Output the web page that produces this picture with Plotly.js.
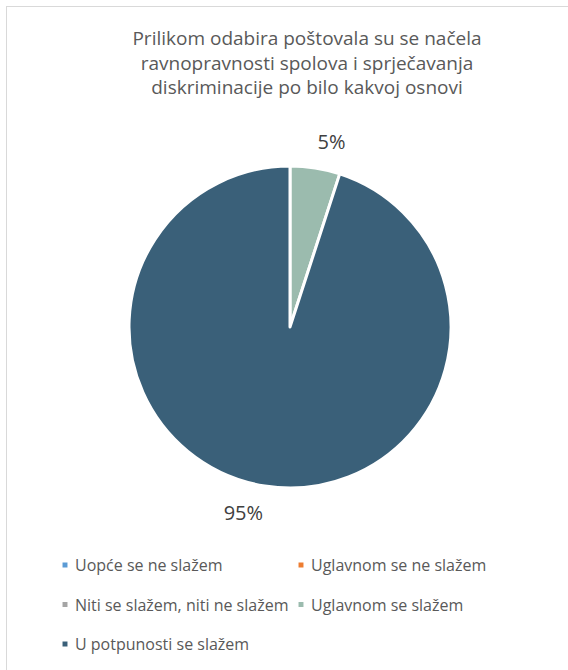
<!DOCTYPE html>
<html>
<head>
<meta charset="utf-8">
<script src="https://cdn.plot.ly/plotly-3.0.1.min.js"></script>
<style>
  html, body { margin: 0; padding: 0; background: #ffffff; overflow: hidden; }
  #frame { position: absolute; left: 6px; top: 6px; width: 600px; height: 700px; border: 1px solid #d9d9d9; box-sizing: border-box; }
  #chart { position: absolute; left: 0; top: 0; width: 568px; height: 670px; }
</style>
</head>
<body>
<div id="frame"></div>
<div id="chart"></div>
<script>
const categories = [
  "Uopće se ne slažem",
  "Uglavnom se ne slažem",
  "Niti se slažem, niti ne slažem",
  "Uglavnom se slažem",
  "U potpunosti se slažem"
];
const values = [0, 0, 0, 5, 95];
const colors = ["#5B9BD5", "#ED7D31", "#A5A5A5", "#9BBBAE", "#3A6079"];
const titleText = "Prilikom odabira poštovala su se načela<br>ravnopravnosti spolova i sprječavanja<br>diskriminacije po bilo kakvoj osnovi";

const W = 568, H = 670;
const cx = 290, cy = 327, r = 161;

const total = values.reduce((a, b) => a + b, 0);
const sliceText = values.map(v => v > 0 ? Math.round(v / total * 100) + "%" : "");

const trace = {
  type: "pie",
  labels: categories,
  values: values,
  sort: false,
  direction: "clockwise",
  rotation: 0,
  marker: { colors: colors, line: { color: "#ffffff", width: 3 } },
  text: sliceText,
  textinfo: "text",
  textposition: "outside",
  outsidetextfont: { family: "Open Sans, sans-serif", size: 20, color: "#404040" },
  hoverinfo: "label+percent",
  domain: {
    x: [(cx - r) / W, (cx + r) / W],
    y: [(H - cy - r) / H, (H - cy + r) / H]
  },
  automargin: false
};

const layout = {
  width: W,
  height: H,
  margin: { l: 0, r: 0, t: 0, b: 0 },
  paper_bgcolor: "rgba(0,0,0,0)",
  plot_bgcolor: "rgba(0,0,0,0)",
  font: { family: "Open Sans, sans-serif", color: "#595959" },
  title: {
    text: titleText,
    x: 307 / W,
    xanchor: "center",
    y: 1 - 45 / H,
    yanchor: "top",
    font: { family: "Open Sans, sans-serif", size: 19, color: "#595959" }
  },
  showlegend: true,
  legend: {
    orientation: "h",
    x: 43 / W,
    xanchor: "left",
    y: 1 - 548 / H,
    yanchor: "top",
    entrywidth: 191,
    entrywidthmode: "pixels",
    font: { family: "Open Sans, sans-serif", size: 16, color: "#595959" },
    traceorder: "normal"
  }
};

function parseTranslate(t) {
  const m = /translate\(\s*([-\d.e]+)[ ,]+([-\d.e]+)\s*\)/.exec(t || "");
  return m ? [parseFloat(m[1]), parseFloat(m[2])] : [0, 0];
}

Plotly.newPlot("chart", [trace], layout, { displayModeBar: false, staticPlot: true }).then(function (gd) {
  // Spread legend rows and tighten symbol/text spacing like the reference
  const scroll = gd.querySelector(".legend .scrollbox");
  if (scroll) scroll.removeAttribute("clip-path");
  const items = Array.from(gd.querySelectorAll(".legend .traces"));
  const ys = [];
  items.forEach(el => {
    const p = parseTranslate(el.getAttribute("transform"));
    if (!ys.some(y => Math.abs(y - p[1]) < 1)) ys.push(p[1]);
  });
  ys.sort((a, b) => a - b);
  const rowGap = 39.5;
  items.forEach(el => {
    const p = parseTranslate(el.getAttribute("transform"));
    const idx = ys.findIndex(y => Math.abs(y - p[1]) < 1);
    el.setAttribute("transform", "translate(" + p[0] + "," + (ys[0] + idx * rowGap) + ")");
    const txt = el.querySelector(".legendtext");
    if (txt) txt.setAttribute("x", 32);
    const pts = el.querySelector(".legendpoints");
    if (pts) pts.setAttribute("transform", "translate(22,0) scale(0.55) translate(-20,0)");
  });
  // Push outside percentage labels a bit further from the pie, radially
  const chartBox = gd.getBoundingClientRect();
  gd.querySelectorAll(".slicetext").forEach(t => {
    const b = t.getBoundingClientRect();
    if (!b.width) return;
    const mx = b.left + b.width / 2 - chartBox.left;
    const my = b.top + b.height / 2 - chartBox.top;
    const dx = mx - cx, dy = my - cy;
    const d = Math.sqrt(dx * dx + dy * dy);
    const extra = 7;
    const ox = -0.05 * dx, oy = dy / d * extra;
    t.setAttribute("transform", "translate(" + ox.toFixed(2) + "," + oy.toFixed(2) + ") " + (t.getAttribute("transform") || ""));
  });
});
</script>
</body>
</html>
